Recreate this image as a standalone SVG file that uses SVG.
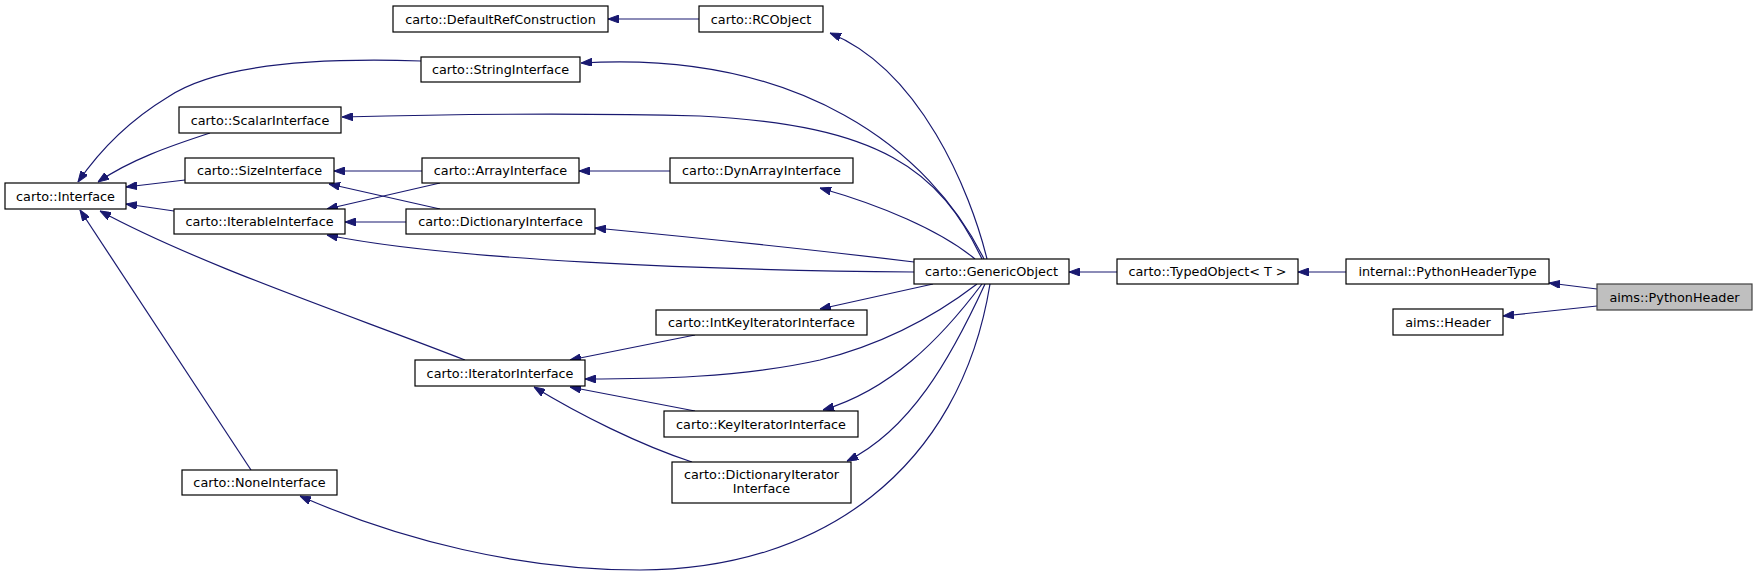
<svg xmlns="http://www.w3.org/2000/svg" width="1757" height="577" viewBox="0 0 1757 577">
<style>
rect{fill:#fff;stroke:#000;stroke-width:1.2}
.cur{fill:#bfbfbf;stroke:#404040}
text{font-family:"DejaVu Sans",Verdana,sans-serif;font-size:12.8px;text-anchor:middle;fill:#000}
.e path{fill:none;stroke:#191970;stroke-width:1.2;marker-end:url(#a)}
</style>
<defs><marker id="a" viewBox="0 0 11 8" refX="11" refY="4" markerWidth="11" markerHeight="8" markerUnits="userSpaceOnUse" orient="auto"><path d="M0,0L11,4L0,8z" fill="#191970" stroke="#191970"/></marker></defs>
<g class="e">
<path d="M699,19L608,19"/>
<path d="M987,259C970,190 920,70 830,33"/>
<path d="M984,259C930,150 800,50 581,63"/>
<path d="M982,259C940,170 880,125 700,116C550,112 420,115 342,117"/>
<path d="M975,259C940,230 880,205 820,188"/>
<path d="M670,171L579,171"/>
<path d="M422,171L334,171"/>
<path d="M440,183L327,209"/>
<path d="M440,209L329,184"/>
<path d="M406,222L345,222"/>
<path d="M914,262C800,248 700,238 595,228"/>
<path d="M914,272C700,270 450,260 327,235"/>
<path d="M933,284L820,309"/>
<path d="M977,284C930,320 880,345 820,360C740,378 650,379 585,379"/>
<path d="M982,284C940,340 890,390 823,410"/>
<path d="M985,284C950,360 910,430 847,461"/>
<path d="M990,284C960,470 820,570 640,570C520,570 400,540 300,496"/>
<path d="M695,335L570,360"/>
<path d="M695,411L570,387"/>
<path d="M692,462C640,445 580,415 534,387"/>
<path d="M465,360C350,315 200,265 100,211"/>
<path d="M251,470L80,210"/>
<path d="M210,133C170,146 130,160 98,182"/>
<path d="M421,61C330,58 220,62 168,97C130,120 100,150 78,182"/>
<path d="M185,180L126,187"/>
<path d="M174,211L126,204"/>
<path d="M1117,272L1069,272"/>
<path d="M1346,272L1298,272"/>
<path d="M1597,289L1549,283"/>
<path d="M1597,306L1503,316"/>
</g>
<g id="n1"><rect x="393" y="6" width="215" height="26"/><text x="500.5" y="23.5">carto::DefaultRefConstruction</text></g>
<g id="n2"><rect x="699" y="6" width="124" height="26"/><text x="761" y="23.5">carto::RCObject</text></g>
<g id="n3"><rect x="421" y="57" width="159" height="25"/><text x="500.5" y="74">carto::StringInterface</text></g>
<g id="n4"><rect x="179" y="107" width="162" height="26"/><text x="260" y="124.5">carto::ScalarInterface</text></g>
<g id="n5"><rect x="185" y="158" width="149" height="25"/><text x="259.5" y="175">carto::SizeInterface</text></g>
<g id="n6"><rect x="422" y="158" width="157" height="25"/><text x="500.5" y="175">carto::ArrayInterface</text></g>
<g id="n7"><rect x="5" y="183" width="121" height="26"/><text x="65.5" y="200.5">carto::Interface</text></g>
<g id="n8"><rect x="174" y="209" width="171" height="25"/><text x="259.5" y="226">carto::IterableInterface</text></g>
<g id="n9"><rect x="406" y="209" width="189" height="25"/><text x="500.5" y="226">carto::DictionaryInterface</text></g>
<g id="n10"><rect x="670" y="158" width="183" height="25"/><text x="761.5" y="175">carto::DynArrayInterface</text></g>
<g id="n11"><rect x="914" y="259" width="155" height="25"/><text x="991.5" y="276">carto::GenericObject</text></g>
<g id="n12"><rect x="1117" y="259" width="181" height="25"/><text x="1207.5" y="276">carto::TypedObject&lt; T &gt;</text></g>
<g id="n13"><rect x="1346" y="259" width="203" height="25"/><text x="1447.5" y="276">internal::PythonHeaderType</text></g>
<g id="n14"><rect class="cur" x="1597" y="284" width="155" height="26"/><text x="1674.5" y="301.5">aims::PythonHeader</text></g>
<g id="n15"><rect x="1393" y="309" width="110" height="26"/><text x="1448" y="326.5">aims::Header</text></g>
<g id="n16"><rect x="656" y="310" width="211" height="25"/><text x="761.5" y="327">carto::IntKeyIteratorInterface</text></g>
<g id="n17"><rect x="415" y="360" width="170" height="26"/><text x="500" y="377.5">carto::IteratorInterface</text></g>
<g id="n18"><rect x="664" y="411" width="194" height="26"/><text x="761" y="428.5">carto::KeyIteratorInterface</text></g>
<g id="n19"><rect x="672" y="462" width="179" height="41"/><text x="761.5" y="479">carto::DictionaryIterator</text><text x="761.5" y="493">Interface</text></g>
<g id="n20"><rect x="182" y="470" width="155" height="25"/><text x="259.5" y="487">carto::NoneInterface</text></g>
</svg>
